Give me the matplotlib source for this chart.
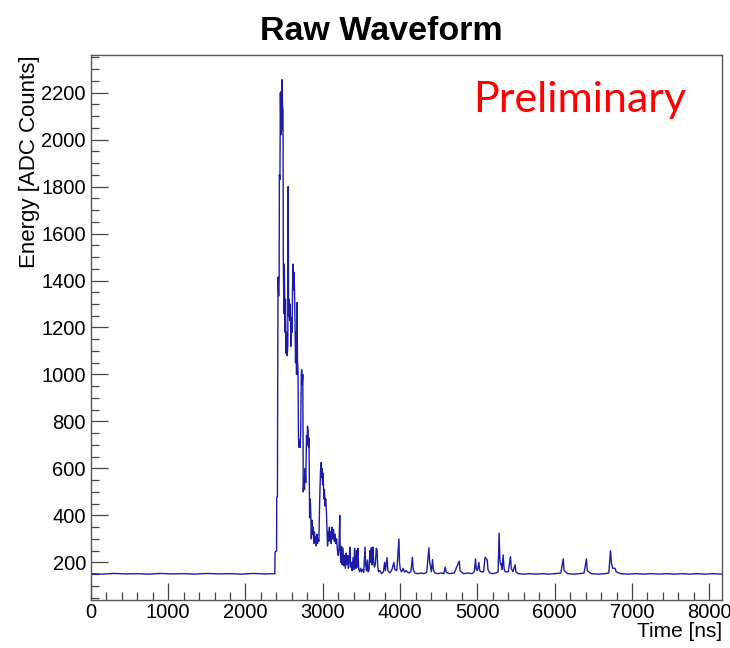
import matplotlib
matplotlib.use("Agg")
import matplotlib.pyplot as plt
from matplotlib.ticker import MultipleLocator

# waveform knots: time [ns], energy [ADC counts]
time_ns = [0, 150, 300, 450, 600, 750, 900, 1050, 1200, 1350, 1500, 1650, 1800, 1950, 2100, 2250, 2380,
           2383, 2403, 2405, 2414, 2418, 2422, 2430, 2436, 2439, 2446, 2452, 2458, 2463, 2468, 2474, 2480,
           2486, 2490, 2497, 2503, 2512, 2518, 2525, 2533, 2540, 2548, 2553, 2558, 2566, 2572, 2578, 2584,
           2590, 2596, 2603, 2610, 2616, 2622, 2630, 2636, 2642, 2648, 2655, 2661, 2667, 2673, 2680, 2686,
           2693, 2700, 2708, 2715, 2722, 2728, 2735, 2742, 2748, 2756, 2764, 2772, 2780, 2790, 2797, 2803,
           2810, 2816, 2822, 2830, 2838, 2845, 2852, 2860, 2868, 2876, 2884, 2892, 2900, 2908, 2916, 2924,
           2932, 2940, 2950, 2960, 2970, 2978, 2986, 2992, 2998, 3006, 3014, 3022, 3030, 3038, 3046, 3054,
           3062, 3070, 3078, 3086, 3094, 3102, 3110, 3120, 3130, 3140, 3150, 3160, 3170, 3180, 3190, 3200,
           3210, 3220, 3226, 3234, 3244, 3252, 3262, 3272, 3282, 3292, 3302, 3312, 3322, 3332, 3342, 3352,
           3360, 3370, 3380, 3392, 3402, 3412, 3420, 3428, 3438, 3446, 3456, 3464, 3476, 3490, 3500, 3515,
           3530, 3547, 3555, 3565, 3578, 3586, 3598, 3610, 3618, 3628, 3636, 3644, 3650, 3658, 3668, 3680,
           3692, 3702, 3710, 3720, 3740, 3760, 3785, 3800, 3810, 3832, 3842, 3870, 3895, 3920, 3932, 3958,
           3985, 3993, 4003, 4020, 4040, 4060, 4080, 4110, 4140, 4160, 4170, 4190, 4230, 4270, 4310, 4345,
           4373, 4383, 4393, 4405, 4420, 4430, 4450, 4490, 4530, 4565, 4584, 4597, 4640, 4700, 4765, 4777,
           4820, 4880, 4930, 4960, 4976, 4986, 5000, 5020, 5030, 5050, 5080, 5100, 5127, 5137, 5160, 5200,
           5240, 5268, 5281, 5292, 5300, 5310, 5320, 5333, 5345, 5360, 5400, 5428, 5438, 5460, 5488, 5498,
           5530, 5600, 5680, 5760, 5840, 5920, 6000, 6080, 6110, 6122, 6170, 6240, 6320, 6380, 6410, 6422,
           6470, 6560, 6650, 6700, 6722, 6735, 6750, 6781, 6795, 6850, 6950, 7050, 7150, 7250, 7350, 7450,
           7550, 7650, 7750, 7850, 7950, 8050, 8160]
energy = [152, 150, 153, 151, 152, 150, 153, 151, 152, 150, 153, 151, 152, 150, 153, 151, 152,
          245, 248, 478, 482, 1060, 1415, 1335, 1410, 1850, 1830, 2200, 2020, 2205, 2040, 2255, 2140,
          2125, 1490, 1260, 1470, 1180, 1320, 1090, 1180, 1080, 1120, 1800, 1250, 1320, 1230, 1300, 1220,
          1120, 1240, 1180, 1380, 1470, 1360, 1435, 1340, 1200, 1050, 1180, 1000, 1306, 1064, 1010, 730,
          690, 720, 690, 760, 1000, 1020, 960, 1000, 500, 560, 510, 600, 540, 740, 700, 780,
          760, 690, 730, 390, 470, 410, 300, 380, 320, 350, 280, 330, 290, 310, 270, 320,
          280, 300, 290, 460, 580, 625, 560, 600, 530, 580, 470, 510, 440, 470, 430, 350,
          270, 330, 290, 350, 300, 330, 280, 350, 300, 340, 290, 320, 280, 300, 250, 230,
          260, 400, 250, 200, 268, 190, 260, 185, 230, 175, 240, 190, 230, 175, 210, 265,
          180, 200, 165, 220, 170, 260, 200, 175, 250, 180, 260, 175, 160, 175, 160, 170,
          158, 265, 190, 165, 210, 160, 165, 250, 200, 262, 190, 250, 265, 205, 180, 190,
          260, 255, 190, 160, 165, 152, 160, 200, 165, 220, 165, 155, 170, 200, 170, 165,
          300, 200, 170, 160, 175, 158, 165, 155, 160, 222, 170, 155, 152, 155, 152, 158,
          262, 200, 185, 160, 212, 170, 155, 152, 155, 152, 180, 158, 152, 155, 205, 165,
          152, 155, 152, 160, 215, 170, 165, 200, 165, 160, 160, 222, 210, 170, 155, 152,
          155, 160, 325, 210, 190, 195, 170, 232, 175, 160, 160, 225, 175, 160, 190, 160,
          152, 150, 152, 150, 152, 150, 152, 155, 215, 165, 152, 150, 152, 155, 215, 165,
          152, 150, 152, 155, 250, 195, 175, 175, 160, 152, 150, 152, 150, 152, 150, 152,
          150, 152, 150, 152, 150, 152, 150]

x_ticks = [0, 1000, 2000, 3000, 4000, 5000, 6000, 7000, 8000]
y_ticks = [200, 400, 600, 800, 1000, 1200, 1400, 1600, 1800, 2000, 2200]

fig = plt.figure(figsize=(7.3, 6.48), dpi=100)
ax = fig.add_axes([0.1244, 0.0741, 0.8642, 0.841])

ax.plot(time_ns, energy, color='#1c1ca6', lw=1.0)

ax.set_xlim(0, 8160)
ax.set_ylim(40, 2360)
ax.set_xticks(x_ticks)
ax.set_yticks(y_ticks)
ax.xaxis.set_minor_locator(MultipleLocator(200))
ax.yaxis.set_minor_locator(MultipleLocator(50))

ax.tick_params(which='both', direction='in', top=False, right=False,
               labelsize=14.5, color='#444444', width=0.9)
ax.tick_params(which='major', length=12)
ax.tick_params(which='minor', length=6)
ax.tick_params(axis='x', pad=2.5)
for lab in ax.get_xticklabels() + ax.get_yticklabels():
    lab.set_family('Liberation Sans')

for sp in ax.spines.values():
    sp.set_color('#555555')
    sp.set_linewidth(1.0)

ax.set_xlabel('Time [ns]', loc='right', fontsize=15, family='Liberation Sans', labelpad=0)
ax.set_ylabel('Energy [ADC Counts]', loc='top', fontsize=16, family='Liberation Sans', labelpad=1)

fig.text(0.522, 0.952, 'Raw Waveform', ha='center', va='center', fontsize=24.5,
         fontweight='bold', family='Liberation Sans')
fig.text(0.648, 0.846, 'Preliminary', ha='left', va='center', fontsize=31,
         color='#ff0000', family='Lato')

fig.savefig('out.png', dpi=100)
